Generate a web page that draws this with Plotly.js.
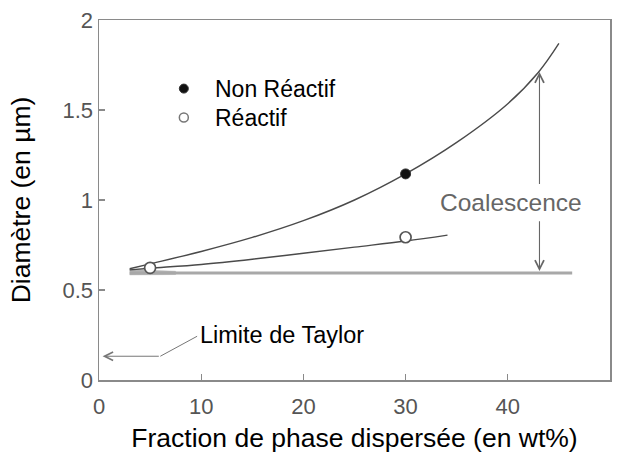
<!DOCTYPE html>
<html>
<head>
<meta charset="utf-8">
<script src="https://cdn.plot.ly/plotly-3.0.1.min.js"></script>
<style>html,body{margin:0;padding:0;background:#fff;}#chart{width:622px;height:455px;}</style>
</head>
<body>
<div id="chart"></div>
<script>
// ---- data ----
const xTicks = [0, 10, 20, 30, 40, 50];
const yTicks = [0, 0.5, 1, 1.5, 2];
const yTickText = ['0', '0.5', '1', '1.5', '2'];

// fitted curve, non-reactive blend
const nonReactCurveX = [3, 5, 10, 15, 20, 25, 30, 35, 40, 43, 45];
const nonReactCurveY = [0.618, 0.645, 0.714, 0.792, 0.885, 1.0, 1.145, 1.32, 1.535, 1.71, 1.87];
// fitted curve, reactive blend
const reactCurveX = [3, 5, 10, 15, 20, 25, 30, 34.1];
const reactCurveY = [0.612, 0.621, 0.642, 0.671, 0.704, 0.738, 0.772, 0.805];
// Taylor-limit baseline (coalescence-free diameter)
const baseX = [3.0, 46.3];
const baseY = [0.594, 0.594];
// shaded wedge where the curves meet the baseline
const wedgeX = [3.0, 7.5, 7.5, 3.0];
const wedgeY = [0.584, 0.586, 0.604, 0.614];
// measured points
const nonReactX = [30];
const nonReactY = [1.145];
const reactX = [5, 30];
const reactY = [0.623, 0.793];
// legend key positions
const legendX = [8.3, 8.3];
const legendY = [1.619, 1.458];
const legendText = ['Non Réactif', 'Réactif'];
// coalescence arrow
const coalX = 43.1;
const coalTop = 1.711, coalBottom = 0.605;
const coalGapTop = 1.08, coalGapBottom = 0.89;
// Taylor limit leader
const taylorX = [0.35, 6.0, 9.6];
const taylorY = [0.132, 0.132, 0.243];

const FONT = 'Liberation Sans, Arial, Helvetica, sans-serif';
const LINE = '#4a4a4a';

const traces = [
  {x: wedgeX, y: wedgeY, mode: 'lines', fill: 'toself', fillcolor: '#b4b4b4', line: {color: '#b4b4b4', width: 0.5}, hoverinfo: 'skip'},
  {x: baseX, y: baseY, mode: 'lines', line: {color: '#a8a8a8', width: 3}, hoverinfo: 'skip'},
  {x: nonReactCurveX, y: nonReactCurveY, mode: 'lines', line: {color: LINE, width: 1.4, shape: 'spline', smoothing: 1}, hoverinfo: 'skip'},
  {x: reactCurveX, y: reactCurveY, mode: 'lines', line: {color: LINE, width: 1.4, shape: 'spline', smoothing: 1}, hoverinfo: 'skip'},
  {x: taylorX.slice(1), y: taylorY.slice(1), mode: 'lines', line: {color: '#777', width: 1}, hoverinfo: 'skip'},
  {x: nonReactX, y: nonReactY, mode: 'markers', marker: {color: '#111', size: 10, line: {color: '#333', width: 1}}},
  {x: reactX, y: reactY, mode: 'markers', marker: {color: '#fff', size: 11, line: {color: '#555', width: 1.7}}},
  {x: [legendX[0]], y: [legendY[0]], mode: 'markers', marker: {color: '#111', size: 9, line: {color: '#333', width: 1}}},
  {x: [legendX[1]], y: [legendY[1]], mode: 'markers', marker: {color: '#fff', size: 9, line: {color: '#777', width: 1.5}}}
];

const annotations = [
  {x: legendX[0] + 2.9, y: legendY[0], text: legendText[0], xref: 'x', yref: 'y', xanchor: 'left', yanchor: 'middle', showarrow: false, font: {family: FONT, size: 23, color: '#000'}},
  {x: legendX[1] + 2.9, y: legendY[1], text: legendText[1], xref: 'x', yref: 'y', xanchor: 'left', yanchor: 'middle', showarrow: false, font: {family: FONT, size: 23, color: '#000'}},
  {x: 40.3, y: (coalGapTop + coalGapBottom) / 2, text: 'Coalescence', xref: 'x', yref: 'y', xanchor: 'center', yanchor: 'middle', showarrow: false, font: {family: FONT, size: 24.5, color: '#666'}},
  {x: coalX, y: coalTop, ax: coalX, ay: coalGapTop, xref: 'x', yref: 'y', axref: 'x', ayref: 'y', text: '', showarrow: true, arrowhead: 5, arrowsize: 1.6, arrowwidth: 1.1, arrowcolor: '#666'},
  {x: coalX, y: coalBottom, ax: coalX, ay: coalGapBottom, xref: 'x', yref: 'y', axref: 'x', ayref: 'y', text: '', showarrow: true, arrowhead: 5, arrowsize: 1.6, arrowwidth: 1.1, arrowcolor: '#666'},
  {x: taylorX[0], y: taylorY[0], ax: taylorX[1], ay: taylorY[1], xref: 'x', yref: 'y', axref: 'x', ayref: 'y', text: '', showarrow: true, arrowhead: 5, arrowsize: 1.7, arrowwidth: 1, arrowcolor: '#777'},
  {x: 9.7, y: 0.252, text: 'Limite de Taylor', xref: 'x', yref: 'y', xanchor: 'left', yanchor: 'middle', showarrow: false, font: {family: FONT, size: 23.5, color: '#000'}}
];

const axisCommon = {
  showgrid: false, zeroline: false, showline: true, mirror: true,
  linecolor: '#8a8a8a', linewidth: 1.5,
  ticks: 'inside', ticklen: 6, tickwidth: 1.3, tickcolor: '#8a8a8a',
  tickfont: {family: FONT, size: 22, color: '#555'}
};

const layout = {
  width: 622, height: 455,
  margin: {l: 99, r: 12, t: 20, b: 75},
  paper_bgcolor: '#fff', plot_bgcolor: '#fff',
  showlegend: false,
  font: {family: FONT},
  xaxis: Object.assign({}, axisCommon, {
    range: [0, 50], tickvals: xTicks, ticktext: xTicks.map(String),
    ticklabelstandoff: 6,
    title: {text: 'Fraction de phase dispersée (en wt%)', font: {family: FONT, size: 26.5, color: '#000'}, standoff: 10}
  }),
  yaxis: Object.assign({}, axisCommon, {
    range: [0, 2], tickvals: yTicks, ticktext: yTickText,
    title: {text: 'Diamètre (en µm)', font: {family: FONT, size: 26.5, color: '#000'}, standoff: 24}
  }),
  annotations: annotations
};

Plotly.newPlot('chart', traces, layout, {staticPlot: true, displayModeBar: false});
</script>
</body>
</html>
